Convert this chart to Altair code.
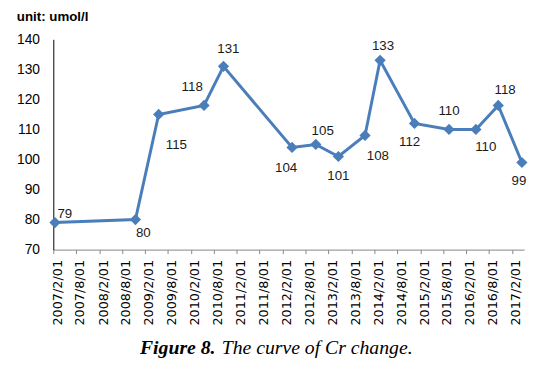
import altair as alt
import pandas as pd

dates = ["2007-02-14", "2008-11-16", "2009-05-20", "2010-05-16", "2010-10-18",
         "2012-04-16", "2012-10-22", "2013-04-20", "2013-11-18", "2014-03-18",
         "2014-12-17", "2015-09-18", "2016-04-19", "2016-10-14", "2017-04-20"]
values = [79, 80, 115, 118, 131, 104, 105, 101, 108, 133, 112, 110, 110, 118, 99]

# tick label dates (every six months)
tick_years = [2007, 2007, 2008, 2008, 2009, 2009, 2010, 2010, 2011, 2011, 2012,
              2012, 2013, 2013, 2014, 2014, 2015, 2015, 2016, 2016, 2017]
tick_months = [2, 8] * 10 + [2]
y_ticks = [70, 80, 90, 100, 110, 120, 130, 140]

# data-label placement offsets (pixels)
label_dx = [10, 8, 18, -12, 5, -6, 7, 0, 13, 3, -5, 0, 10, 7, -3]
label_dy = [-9, 14, 31, -19, -18, 21, -14, 20, 21, -15, 19, -19, 18, -16, 19]

df = pd.DataFrame({"date": dates, "value": values})
df["i"] = range(len(df))

LINE = "#4a7ebb"

x_enc = alt.X(
    "date:T",
    scale=alt.Scale(
        type="utc",
        domain=[alt.DateTime(year=2007, month=2, date=1, utc=True),
                alt.DateTime(year=2017, month=5, date=8, utc=True)],
    ),
    axis=alt.Axis(
        values=[alt.DateTime(year=y, month=m, date=1, utc=True) for y, m in zip(tick_years, tick_months)],
        labelExpr="utcFormat(datum.value, '%Y/%-m/%d')",
        labelAngle=-90,
        labelFont="DejaVu Sans",
        labelFontSize=13,
        labelColor="#000000",
        labelPadding=6,
        labelOffset=4,
        labelOverlap=False,
        labelFlush=False,
        tickSize=4,
        tickColor="#868686",
        domainColor="#868686",
        grid=False,
    ),
    title=None,
)
y_enc = alt.Y(
    "value:Q",
    scale=alt.Scale(domain=[70, 140], nice=False, zero=False),
    axis=alt.Axis(
        values=y_ticks,
        ticks=False,
        labelFont="Liberation Sans",
        labelFontSize=14,
        labelColor="#000000",
        labelPadding=14,
        domainColor="#000000",
        grid=False,
    ),
    title=None,
)

base = alt.Chart(df)
line = base.mark_line(color=LINE, strokeWidth=3).encode(x=x_enc, y=y_enc)
pts = base.mark_point(shape="diamond", filled=True, size=130, color=LINE, opacity=1).encode(x=x_enc, y=y_enc)

label_layers = []
for k, (ddx, ddy) in enumerate(zip(label_dx, label_dy)):
    label_layers.append(
        base.transform_filter(alt.datum.i == k).mark_text(
            align="center", baseline="middle", font="Liberation Sans",
            fontSize=13.5, color="#1a1a1a", dx=ddx, dy=ddy,
        ).encode(x=x_enc, y=y_enc, text="value:Q")
    )

one = alt.Data(values=[{"a": 1}])
unit = alt.Chart(one).mark_text(align="left", baseline="alphabetic", font="Liberation Sans",
                                fontSize=13.5, fontWeight="bold", color="#000000").encode(
    x=alt.value(-37), y=alt.value(-19), text=alt.value("unit: umol/l"))
cap1 = alt.Chart(one).mark_text(align="left", baseline="alphabetic", font="Liberation Serif",
                                fontSize=20, fontWeight="bold", fontStyle="italic",
                                color="#000000").encode(
    x=alt.value(88), y=alt.value(319), text=alt.value("Figure 8."))
cap2 = alt.Chart(one).mark_text(align="left", baseline="alphabetic", font="Liberation Serif",
                                fontSize=20, fontStyle="italic",
                                color="#000000").encode(
    x=alt.value(171), y=alt.value(319), text=alt.value("The curve of Cr change."))

chart = alt.layer(line, pts, *label_layers, unit, cap1, cap2).properties(
    width=478, height=213.5,
    autosize=alt.AutoSizeParams(type="none"),
    padding={"left": 46, "top": 29, "right": 9, "bottom": 126},
).configure_view(stroke=None)

chart.save("out.html", embed_options={"renderer": "svg", "actions": False})
